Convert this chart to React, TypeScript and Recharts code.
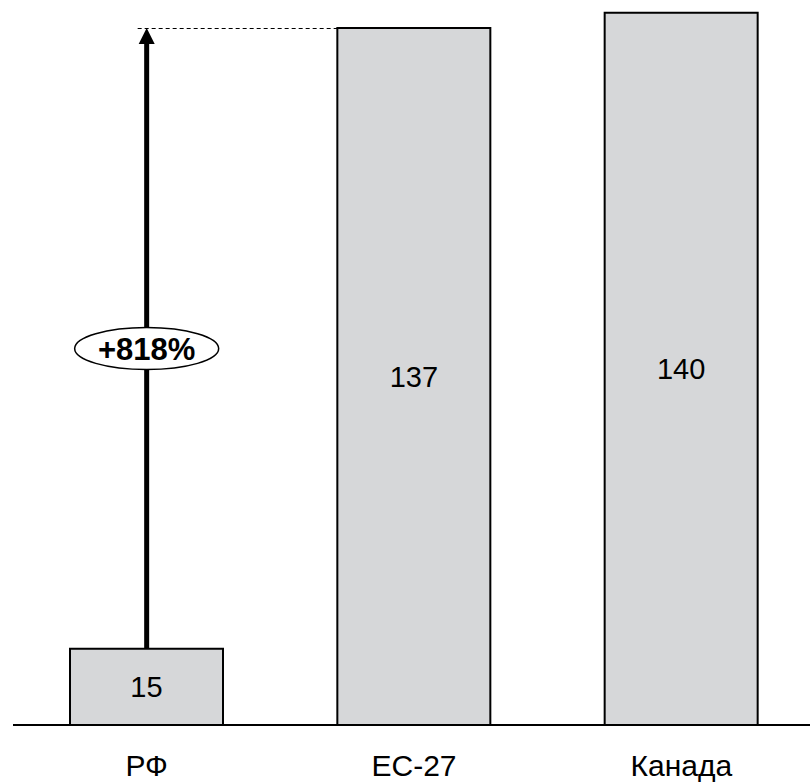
import { Bar, BarChart, LabelList, ReferenceDot, ReferenceLine, XAxis, YAxis } from "recharts";

const categories = ["РФ", "ЕС-27", "Канада"];
const values = [15, 137, 140];
const growthLabel = "+818%";
const growthLabelLevel = 74;

const data = categories.map((name, i) => ({ name, value: values[i] }));

const FONT = "'Liberation Sans', Arial, Helvetica, sans-serif";

// thick arrow from the small bar up to the EU level
const Arrow = (props: any) => {
  const { x1, y1, x2, y2 } = props;
  return (
    <g>
      <line x1={x1} y1={y1} x2={x2} y2={y2 + 14} stroke="#000" strokeWidth={5} />
      <polygon points={`${x2},${y2} ${x2 - 8},${y2 + 16} ${x2 + 8},${y2 + 16}`} fill="#000" />
    </g>
  );
};

const DashedGuide = (props: any) => {
  const { x1, y1, x2, y2 } = props;
  const y = Math.round(y1) + 0.5;
  return (
    <line x1={x1 - 9} y1={y} x2={x2 - 76} y2={Math.round(y2) + 0.5} stroke="#000" strokeWidth={1} strokeDasharray="4 3" />
  );
};

const GrowthBadge = (props: any) => {
  const { cx, cy } = props;
  return (
    <g>
      <ellipse cx={cx} cy={cy} rx={72} ry={21} fill="#fff" stroke="#000" strokeWidth={1.5} />
      <text
        x={cx}
        y={cy + 1}
        textAnchor="middle"
        dominantBaseline="central"
        fontFamily={FONT}
        fontWeight="bold"
        fontSize={31}
        fill="#000"
      >
        {growthLabel}
      </text>
    </g>
  );
};

export default function App() {
  return (
    <div style={{ position: "absolute", left: 0, top: 0, width: 810, height: 782, overflow: "hidden", background: "#fff" }}>
      <BarChart width={815} height={782} data={data} margin={{ top: 0, right: 0, bottom: 0, left: 13 }} barCategoryGap={0}>
        <XAxis
          dataKey="name"
          height={57}
          tickSize={0}
          tickMargin={30}
          axisLine={{ stroke: "#000", strokeWidth: 2 }}
          tick={{ fontSize: 30, fill: "#000", fontFamily: FONT }}
        />
        <YAxis hide domain={[0, 142.5]} />
        <Bar dataKey="value" barSize={153} fill="#d6d7d9" stroke="#000" strokeWidth={2} isAnimationActive={false}>
          <LabelList dataKey="value" position="center" fontSize={29} fill="#000" fontFamily={FONT} />
        </Bar>
        <ReferenceLine
          segment={[{ x: categories[0], y: values[1] }, { x: categories[1], y: values[1] }]}
          shape={DashedGuide}
        />
        <ReferenceLine
          segment={[{ x: categories[0], y: values[0] }, { x: categories[0], y: values[1] }]}
          shape={Arrow}
        />
        <ReferenceDot x={categories[0]} y={growthLabelLevel} shape={GrowthBadge} />
      </BarChart>
    </div>
  );
}
